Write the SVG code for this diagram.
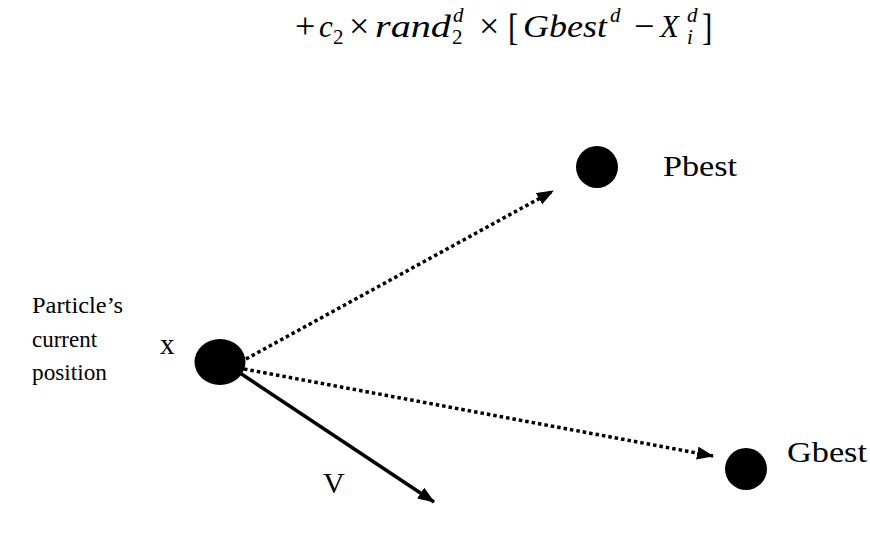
<svg xmlns="http://www.w3.org/2000/svg" width="870" height="547" viewBox="0 0 870 547">
<defs>
<style>
.lbl{fill:#000}
.m{fill:#000;font-size:31px}
.op{font-size:36px}
.i{font-style:italic}
.s{font-size:21px}
.dot{fill:none;stroke:#000;stroke-width:3.5;stroke-dasharray:3.5 3}
.sol{fill:none;stroke:#000;stroke-width:3.5}
</style>
<marker id="ah" markerUnits="userSpaceOnUse" markerWidth="18" markerHeight="14" refX="16" refY="6.5" orient="auto">
<path d="M0,0 L17,6.5 L0,13 z" fill="#000"/>
</marker>
</defs>
<rect width="870" height="547" fill="#fff"/>
<g id="formula" font-family="'Liberation Serif', 'Times New Roman', Times, serif">
<text class="m op" x="295" y="38">+</text>
<text class="m i" x="319" y="37">c</text>
<text class="m s" x="333" y="44">2</text>
<text class="m op" x="349" y="38">×</text>
<text class="m i" x="375" y="37" textLength="76" lengthAdjust="spacingAndGlyphs">rand</text>
<text class="m i s" x="453" y="22">d</text>
<text class="m s" x="452" y="44">2</text>
<text class="m op" x="479" y="38">×</text>
<text class="m" x="508" y="40" font-size="40" transform="translate(508 40) scale(1 1.2) translate(-508 -40)">[</text>
<text class="m i" x="523" y="37" textLength="84" lengthAdjust="spacingAndGlyphs">Gbest</text>
<text class="m i s" x="610" y="22">d</text>
<text class="m op" x="634" y="38">−</text>
<text class="m i" x="660" y="37">X</text>
<text class="m i s" x="687" y="22">d</text>
<text class="m i s" x="687" y="44">i</text>
<text class="m" x="702" y="40" font-size="40" transform="translate(702 40) scale(1 1.2) translate(-702 -40)">]</text>
</g>
<g id="connectors">
<line class="dot" x1="246" y1="359" x2="553" y2="191" marker-end="url(#ah)"/>
<line class="dot" x1="244" y1="369" x2="713" y2="456" marker-end="url(#ah)"/>
<line class="sol" x1="240" y1="373" x2="434" y2="502" marker-end="url(#ah)"/>
</g>
<g id="particle" font-family="'Liberation Serif', 'Times New Roman', Times, serif">
<ellipse cx="220" cy="362" rx="25.5" ry="23" fill="#000"/>
<text class="lbl" font-size="29" x="160" y="354">x</text>
<text class="lbl" font-size="23" x="32" y="313" textLength="91" lengthAdjust="spacingAndGlyphs">Particle’s</text>
<text class="lbl" font-size="23" x="32" y="347">current</text>
<text class="lbl" font-size="23" x="32" y="380" textLength="75" lengthAdjust="spacingAndGlyphs">position</text>
</g>
<g id="pbest" font-family="'Liberation Serif', 'Times New Roman', Times, serif">
<circle cx="597" cy="167" r="21" fill="#000"/>
<text class="lbl" font-size="30" x="663" y="176" textLength="74" lengthAdjust="spacingAndGlyphs">Pbest</text>
</g>
<g id="gbest" font-family="'Liberation Serif', 'Times New Roman', Times, serif">
<circle cx="746" cy="469" r="21" fill="#000"/>
<text class="lbl" font-size="30" x="787" y="462" textLength="80" lengthAdjust="spacingAndGlyphs">Gbest</text>
</g>
<g id="v-label" font-family="'Liberation Serif', 'Times New Roman', Times, serif">
<text class="lbl" font-size="30" x="323" y="493">V</text>
</g>
</svg>
